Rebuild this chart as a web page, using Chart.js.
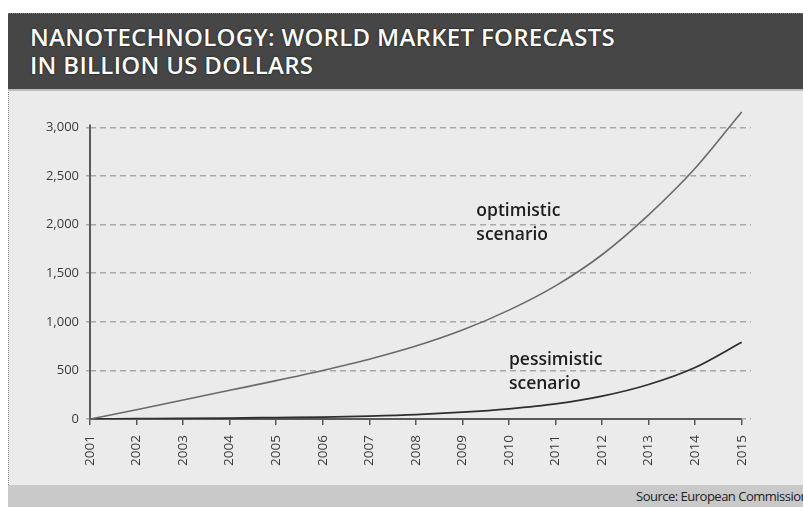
<!DOCTYPE html>
<html>
<head>
<meta charset="utf-8">
<script src="https://cdn.jsdelivr.net/npm/chart.js@4/dist/chart.umd.min.js"></script>
<style>
  html, body { margin: 0; padding: 0; }
  body { width: 803px; height: 507px; position: relative; overflow: hidden; background: #fff; }
  #panel { position: absolute; left: 8px; top: 13px; right: 0; bottom: 0; background: #ebebeb; border-left: 1px dotted #888; }
  #header { position: absolute; left: 8px; top: 13px; right: 0; height: 75px; background: #464646; border-top: 1px dotted #777; border-bottom: 2px solid #bdbdbd; }
  #header div { position: absolute; left: 22px; color: #fff; font: 600 24px "Open Sans", sans-serif; letter-spacing: 0.3px; text-shadow: 0 0 2px #111; white-space: nowrap; }
  #footer { position: absolute; left: 8px; right: 0; top: 485px; bottom: 0; background: #c9c9c9; }
  #footer span { position: absolute; left: 628px; top: 2px; font: 13px "Open Sans", sans-serif; color: #222; white-space: nowrap; letter-spacing: -0.5px; }
  #wrap { position: absolute; left: 0; top: 0; width: 803px; height: 507px; }
</style>
</head>
<body>
<div id="panel"></div>
<div id="header">
  <div style="top:6px">NANOTECHNOLOGY: WORLD MARKET FORECASTS</div>
  <div style="top:34px">IN BILLION US DOLLARS</div>
</div>
<div id="footer"><span>Source: European Commission</span></div>
<div id="wrap"><canvas id="chart" width="803" height="507"></canvas></div>
<script>
// world market forecast, billion US dollars
const years = [2001, 2002, 2003, 2004, 2005, 2006, 2007, 2008, 2009, 2010, 2011, 2012, 2013, 2014, 2015];
const optimistic = [0, 95, 195, 295, 395, 500, 615, 750, 915, 1120, 1370, 1690, 2100, 2580, 3160];
const pessimistic = [0, 3, 6, 10, 15, 20, 30, 45, 70, 105, 155, 235, 355, 530, 790];
const yTicks = [0, 500, 1000, 1500, 2000, 2500, 3000];

const labels = [
  { text: ['optimistic', 'scenario'], x: 2009.3, y: 2140 },
  { text: ['pessimistic', 'scenario'], x: 2010.0, y: 610 }
];

const points = arr => years.map((yr, i) => ({ x: yr, y: arr[i] }));

// axis lines stop at the last tick instead of the chart area edge
const axisLines = {
  id: 'axisLines',
  beforeDatasetsDraw(c) {
    const { ctx, scales: { x, y } } = c;
    const x0 = x.getPixelForValue(years[0]);
    const x1 = x.getPixelForValue(years[years.length - 1]);
    const y0 = y.getPixelForValue(0);
    const y1 = y.getPixelForValue(yTicks[yTicks.length - 1]);
    ctx.save();
    ctx.strokeStyle = '#5a5a5a';
    ctx.lineWidth = 2;
    ctx.beginPath();
    ctx.moveTo(x0, y1 - 3);
    ctx.lineTo(x0, y0);
    ctx.lineTo(x1, y0);
    ctx.stroke();
    ctx.restore();
  },
  afterDatasetsDraw(c) {
    const { ctx, scales: { x, y } } = c;
    ctx.save();
    ctx.fillStyle = '#1e1e1e';
    ctx.font = '600 17.5px "Open Sans", sans-serif';
    ctx.textBaseline = 'middle';
    labels.forEach(l => {
      const px = x.getPixelForValue(l.x);
      const py = y.getPixelForValue(l.y);
      l.text.forEach((t, i) => ctx.fillText(t, px, py + i * 24));
    });
    ctx.restore();
  }
};

new Chart(document.getElementById('chart'), {
  type: 'line',
  data: {
    datasets: [
      {
        label: 'optimistic scenario',
        data: points(optimistic),
        borderColor: '#6a6a6a',
        borderWidth: 1.6,
        pointRadius: 0,
        cubicInterpolationMode: 'monotone'
      },
      {
        label: 'pessimistic scenario',
        data: points(pessimistic),
        borderColor: '#2e2e2e',
        borderWidth: 1.8,
        pointRadius: 0,
        cubicInterpolationMode: 'monotone'
      }
    ]
  },
  options: {
    responsive: false,
    animation: false,
    layout: { padding: { left: 0, top: 108, right: 52, bottom: 0 } },
    plugins: { legend: { display: false }, tooltip: { enabled: false } },
    scales: {
      x: {
        type: 'linear',
        min: 2001,
        max: 2015.2,
        afterFit: s => { s.height = 88; },
        afterBuildTicks: s => { s.ticks = years.map(v => ({ value: v })); },
        border: { display: false },
        grid: { drawOnChartArea: false, drawTicks: true, tickLength: 6, color: '#5a5a5a', lineWidth: 1.5 },
        ticks: {
          autoSkip: false,
          minRotation: 90,
          maxRotation: 90,
          padding: 10,
          color: '#3a3a3a',
          font: { family: 'Open Sans', size: 13.5 },
          callback: v => String(v)
        }
      },
      y: {
        min: 0,
        max: 3200,
        afterFit: s => { s.width = 90; },
        afterBuildTicks: s => { s.ticks = yTicks.map(v => ({ value: v })); },
        border: { display: false, dash: [6, 4] },
        grid: { color: '#a9a9a9', lineWidth: 1.5, drawTicks: true, tickLength: 4, tickBorderDash: [] },
        ticks: {
          padding: 7,
          color: '#3a3a3a',
          font: { family: 'Open Sans', size: 13 },
          callback: v => v.toLocaleString('en-US')
        }
      }
    }
  },
  plugins: [axisLines]
});
</script>
</body>
</html>
